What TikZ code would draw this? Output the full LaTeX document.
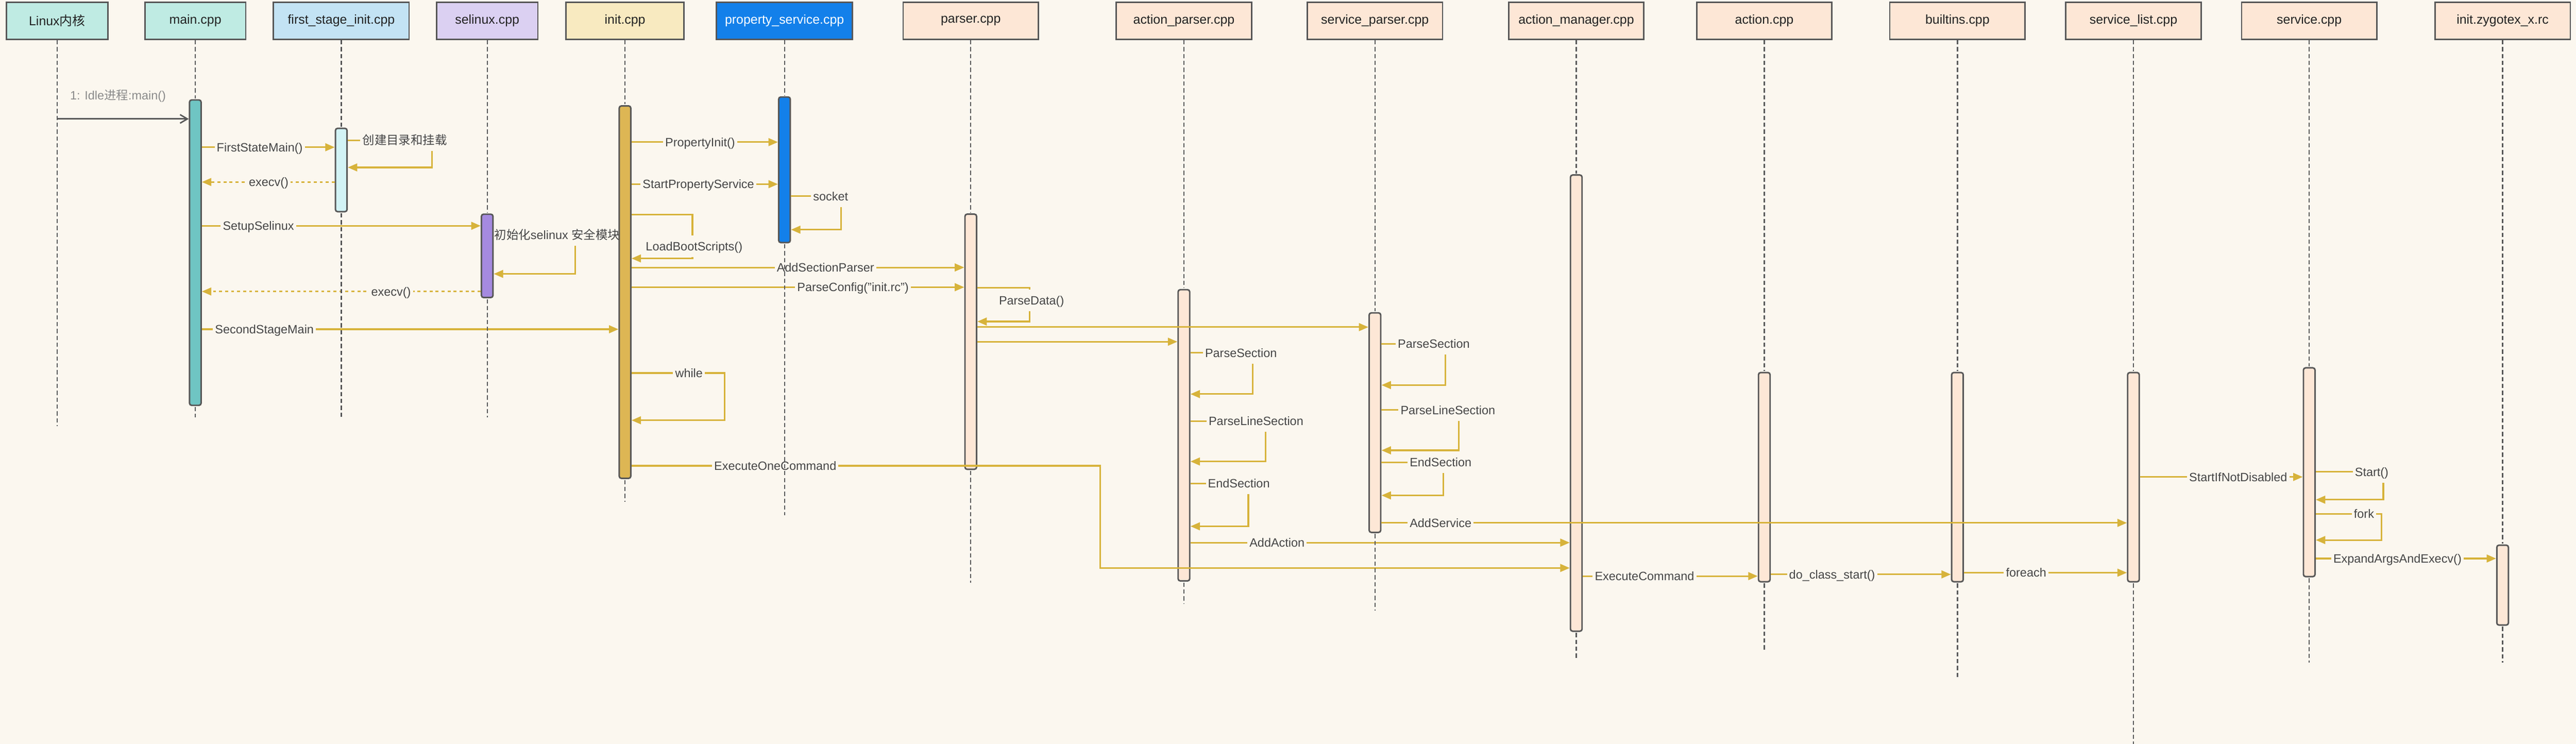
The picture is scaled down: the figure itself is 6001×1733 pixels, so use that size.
\documentclass[tikz,border=0pt]{standalone}
\usepackage{fontspec}
\setmainfont{Liberation Sans}
\newfontfamily\cjk{Noto Sans CJK SC}
\usetikzlibrary{arrows.meta}
\definecolor{bgc}{HTML}{FBF7EF}
\definecolor{edgec}{HTML}{575757}
\definecolor{goldc}{HTML}{D7B33B}
\definecolor{mintc}{HTML}{BFEBE3}
\definecolor{skyc}{HTML}{C3E3F4}
\definecolor{lavc}{HTML}{DBD0F2}
\definecolor{creamc}{HTML}{F8EAC0}
\definecolor{bluec}{HTML}{1380EA}
\definecolor{peachc}{HTML}{FDE7D6}
\definecolor{tealc}{HTML}{6FC5C3}
\definecolor{icec}{HTML}{D2F3F5}
\definecolor{purpc}{HTML}{A58AE0}
\definecolor{ochrec}{HTML}{DDB654}
\definecolor{lblc}{HTML}{454545}
\definecolor{headc}{HTML}{222222}
\definecolor{greyc}{HTML}{8A8A8A}
\begin{document}
\begin{tikzpicture}[x=0.01cm,y=-0.01cm,
 head/.style={draw=edgec, line width=0.033cm, minimum height=0.87cm, minimum width=3.15cm, inner sep=0pt, text=headc, font=\fontsize{8.5}{10}\selectfont},
 bar/.style={draw=edgec, line width=0.035cm, rounded corners=0.05cm, minimum width=0.27cm, inner sep=0pt},
 life/.style={draw=edgec, line width=0.028cm, dash pattern=on 0.1cm off 0.06cm},
 msg/.style={draw=goldc, line width=0.038cm, -{Triangle[length=0.22cm,width=0.18cm]}},
 ret/.style={msg, dash pattern=on 0.07cm off 0.07cm},
 lbl/.style={fill=bgc, text=lblc, inner xsep=0.05cm, inner ysep=0.15cm, text height=0.2cm, text depth=0cm, font=\fontsize{8}{10}\selectfont},
 plainlbl/.style={text=lblc, inner sep=0pt, font=\fontsize{8}{10}\selectfont},
 call/.style={draw=edgec, line width=0.033cm, -{Straight Barb[length=0.17cm,width=0.2cm]}}
]
\fill[bgc] (0,0) rectangle (6001,1733);
\useasboundingbox (0,0) rectangle (6001,1733);

% ---------- headers ----------
\node[head, fill=mintc, minimum width=2.36cm] (hLinux) at (133,48.5) {Linux{\cjk 内核}};
\node[head, fill=mintc, minimum width=2.35cm] (hMain) at (455,48.5) {main.cpp};
\node[head, fill=skyc, minimum width=3.16cm] (hFirst) at (795,48.5) {first\_stage\_init.cpp};
\node[head, fill=lavc, minimum width=2.36cm] (hSel) at (1135,48.5) {selinux.cpp};
\node[head, fill=creamc, minimum width=2.75cm] (hInit) at (1456,48.5) {init.cpp};
\node[head, fill=bluec, minimum width=3.17cm, text=white] (hProp) at (1827.5,48.5) {property\_service.cpp};
\node[head, fill=peachc] (hParser) at (2261.5,48.5) {parser.cpp};
\node[head, fill=peachc] (hAP) at (2758,48.5) {action\_parser.cpp};
\node[head, fill=peachc] (hSP) at (3203,48.5) {service\_parser.cpp};
\node[head, fill=peachc] (hAM) at (3672,48.5) {action\_manager.cpp};
\node[head, fill=peachc] (hAct) at (4110,48.5) {action.cpp};
\node[head, fill=peachc] (hBuilt) at (4560,48.5) {builtins.cpp};
\node[head, fill=peachc] (hSL) at (4970,48.5) {service\_list.cpp};
\node[head, fill=peachc] (hSvc) at (5379.5,48.5) {service.cpp};
\node[head, fill=peachc] (hZyg) at (5830,48.5) {init.zygotex\_x.rc};

% ---------- activation bars ----------
\node[bar, fill=tealc, minimum height=7.11cm] (bMain) at (455,588.5) {};
\node[bar, fill=icec, minimum height=1.94cm] (bFirst) at (795,396) {};
\node[bar, fill=purpc, minimum height=1.94cm] (bSel) at (1135,596) {};
\node[bar, fill=ochrec, minimum height=8.67cm] (bInit) at (1456,680.5) {};
\node[bar, fill=bluec, minimum height=3.39cm] (bProp) at (1827.5,395.5) {};
\node[bar, fill=peachc, minimum height=5.94cm] (bParser) at (2261.5,796) {};
\node[bar, fill=peachc, minimum height=6.78cm] (bAP) at (2758,1014) {};
\node[bar, fill=peachc, minimum height=5.11cm] (bSP) at (3203,984.5) {};
\node[bar, fill=peachc, minimum height=10.62cm] (bAM) at (3672,939) {};
\node[bar, fill=peachc, minimum height=4.87cm] (bAct) at (4110,1111.5) {};
\node[bar, fill=peachc, minimum height=4.87cm] (bBuilt) at (4560,1111.5) {};
\node[bar, fill=peachc, minimum height=4.87cm] (bSL) at (4970,1111.5) {};
\node[bar, fill=peachc, minimum height=4.86cm] (bSvc) at (5379.5,1100) {};
\node[bar, fill=peachc, minimum height=1.86cm] (bZyg) at (5830,1363) {};

% ---------- messages ----------
\draw[call] (hLinux.south |- 0,277) -- (bMain.west |- 0,277);
\node[plainlbl, text=greyc] (tIdle) at (275,223) {1: Idle{\cjk 进程}:main()};
\draw[msg] (bMain.east |- 0,343) -- (bFirst.west |- 0,343);
\node[lbl] (tFSM) at (605,343) {FirstStateMain()};
\draw[msg] (bFirst.east |- 0,327) -- (1006,327) -- (1006,390) -- (bFirst.east |- 0,390);
\node[lbl] (tMk) at (943,327) {\cjk 创建目录和挂载};
\draw[ret] (bFirst.west |- 0,424) -- (bMain.east |- 0,424);
\node[lbl] (tEx1) at (626,424) {execv()};
\draw[msg] (bMain.east |- 0,526) -- (bSel.west |- 0,526);
\node[lbl] (tSetup) at (602,526) {SetupSelinux};
\node[plainlbl, anchor=west] (tSelInit) at (1151,547) {{\cjk 初始化}selinux {\cjk 安全模块}};
\coordinate (cSel) at (1340,573);
\draw[msg] (cSel) -- (1340,638) -- (bSel.east |- 0,638);
\draw[ret] (bSel.west |- 0,679) -- (bMain.east |- 0,679);
\node[lbl] (tEx2) at (911,679) {execv()};
\draw[msg] (bMain.east |- 0,767) -- (bInit.west |- 0,767);
\node[lbl] (tSSM) at (616,767) {SecondStageMain};
\draw[msg] (bInit.east |- 0,331) -- (bProp.west |- 0,331);
\node[lbl] (tPI) at (1631,331) {PropertyInit()};
\draw[msg] (bInit.east |- 0,429) -- (bProp.west |- 0,429);
\node[lbl] (tSPS) at (1627,429) {StartPropertyService};
\draw[msg] (bProp.east |- 0,457) -- (1959,457) -- (1959,535) -- (bProp.east |- 0,535);
\node[lbl] (tSock) at (1935,457) {socket};
\draw[msg] (bInit.east |- 0,500) -- (1613,500) -- (1613,602) -- (bInit.east |- 0,602);
\node[lbl] (tLBS) at (1617,574) {LoadBootScripts()};
\draw[msg] (bInit.east |- 0,623) -- (bParser.west |- 0,623);
\node[lbl] (tASP) at (1923,623) {AddSectionParser};
\draw[msg] (bInit.east |- 0,669) -- (bParser.west |- 0,669);
\node[lbl] (tPC) at (1987,669) {ParseConfig("init.rc")};
\draw[msg] (bParser.east |- 0,670) -- (2399,670) -- (2399,749) -- (bParser.east |- 0,749);
\node[lbl] (tPD) at (2403,700) {ParseData()};
\draw[msg] (bParser.east |- 0,762) -- (bSP.west |- 0,762);
\draw[msg] (bParser.east |- 0,796) -- (bAP.west |- 0,796);
\draw[msg] (bAP.east |- 0,822) -- (2918,822) -- (2918,918) -- (bAP.east |- 0,918);
\node[lbl] (tAPS) at (2891,822) {ParseSection};
\draw[msg] (bAP.east |- 0,981) -- (2948,981) -- (2948,1075) -- (bAP.east |- 0,1075);
\node[lbl] (tAPL) at (2926,981) {ParseLineSection};
\draw[msg] (bAP.east |- 0,1126) -- (2908,1126) -- (2908,1226) -- (bAP.east |- 0,1226);
\node[lbl] (tAPE) at (2886,1126) {EndSection};
\draw[msg] (bSP.east |- 0,801) -- (3367,801) -- (3367,897) -- (bSP.east |- 0,897);
\node[lbl] (tSPS2) at (3340,801) {ParseSection};
\draw[msg] (bSP.east |- 0,955) -- (3398,955) -- (3398,1049) -- (bSP.east |- 0,1049);
\node[lbl] (tSPL) at (3373,955) {ParseLineSection};
\draw[msg] (bSP.east |- 0,1077) -- (3362,1077) -- (3362,1154) -- (bSP.east |- 0,1154);
\node[lbl] (tSPE) at (3356,1077) {EndSection};
\draw[msg] (bSP.east |- 0,1218) -- (bSL.west |- 0,1218);
\node[lbl] (tAS) at (3356,1218) {AddService};
\draw[msg] (bAP.east |- 0,1264) -- (bAM.west |- 0,1264);
\node[lbl] (tAA) at (2975,1264) {AddAction};
\draw[msg] (bInit.east |- 0,869) -- (1688,869) -- (1688,979) -- (bInit.east |- 0,979);
\node[lbl] (tWhile) at (1605,869) {while};
\draw[msg] (bInit.east |- 0,1085) -- (2563,1085) -- (2563,1323) -- (bAM.west |- 0,1323);
\node[lbl] (tEOC) at (1806,1085) {ExecuteOneCommand};
\draw[msg] (bAM.east |- 0,1342) -- (bAct.west |- 0,1342);
\node[lbl] (tEC) at (3831,1342) {ExecuteCommand};
\draw[msg] (bAct.east |- 0,1338) -- (bBuilt.west |- 0,1338);
\node[lbl] (tDCS) at (4268,1338) {do\_class\_start()};
\draw[msg] (bBuilt.east |- 0,1334) -- (bSL.west |- 0,1334);
\node[lbl] (tFE) at (4720,1334) {foreach};
\draw[msg] (bSL.east |- 0,1111) -- (bSvc.west |- 0,1111);
\node[lbl] (tSIND) at (5214,1111) {StartIfNotDisabled};
\draw[msg] (bSvc.east |- 0,1099) -- (5552,1099) -- (5552,1164) -- (bSvc.east |- 0,1164);
\node[lbl] (tStart) at (5525,1099) {Start()};
\draw[msg] (bSvc.east |- 0,1197) -- (5548,1197) -- (5548,1258) -- (bSvc.east |- 0,1258);
\node[lbl] (tFork) at (5507,1197) {fork};
\draw[msg] (bSvc.east |- 0,1301) -- (bZyg.west |- 0,1301);
\node[lbl] (tEAE) at (5585,1301) {ExpandArgsAndExecv()};

% ---------- lifelines ----------
\coordinate (eLinux) at (133,993);
\coordinate (eMain) at (455,972);
\coordinate (eFirst) at (795,972);
\coordinate (eSel) at (1135,972);
\coordinate (eInit) at (1456,1169);
\coordinate (eProp) at (1827.5,1200);
\coordinate (eParser) at (2261.5,1357);
\coordinate (eAP) at (2758,1407);
\coordinate (eSP) at (3203,1422);
\coordinate (eAM) at (3672,1535);
\coordinate (eAct) at (4110,1518);
\coordinate (eBuilt) at (4560,1581);
\coordinate (eSL) at (4970,1733);
\coordinate (eSvc) at (5379.5,1544);
\coordinate (eZyg) at (5830,1544);
\draw[life] (hLinux.south) -- (eLinux);
\foreach \h/\b/\e in {hMain/bMain/eMain, hFirst/bFirst/eFirst, hSel/bSel/eSel, hInit/bInit/eInit, hProp/bProp/eProp, hParser/bParser/eParser, hAP/bAP/eAP, hSP/bSP/eSP, hAM/bAM/eAM, hAct/bAct/eAct, hBuilt/bBuilt/eBuilt, hSL/bSL/eSL, hSvc/bSvc/eSvc, hZyg/bZyg/eZyg}{
  \draw[life] (\h.south) -- ([yshift=0.02cm]\b.north);
  \draw[life] ([yshift=-0.02cm]\b.south) -- (\e);
}
\end{tikzpicture}
\end{document}
